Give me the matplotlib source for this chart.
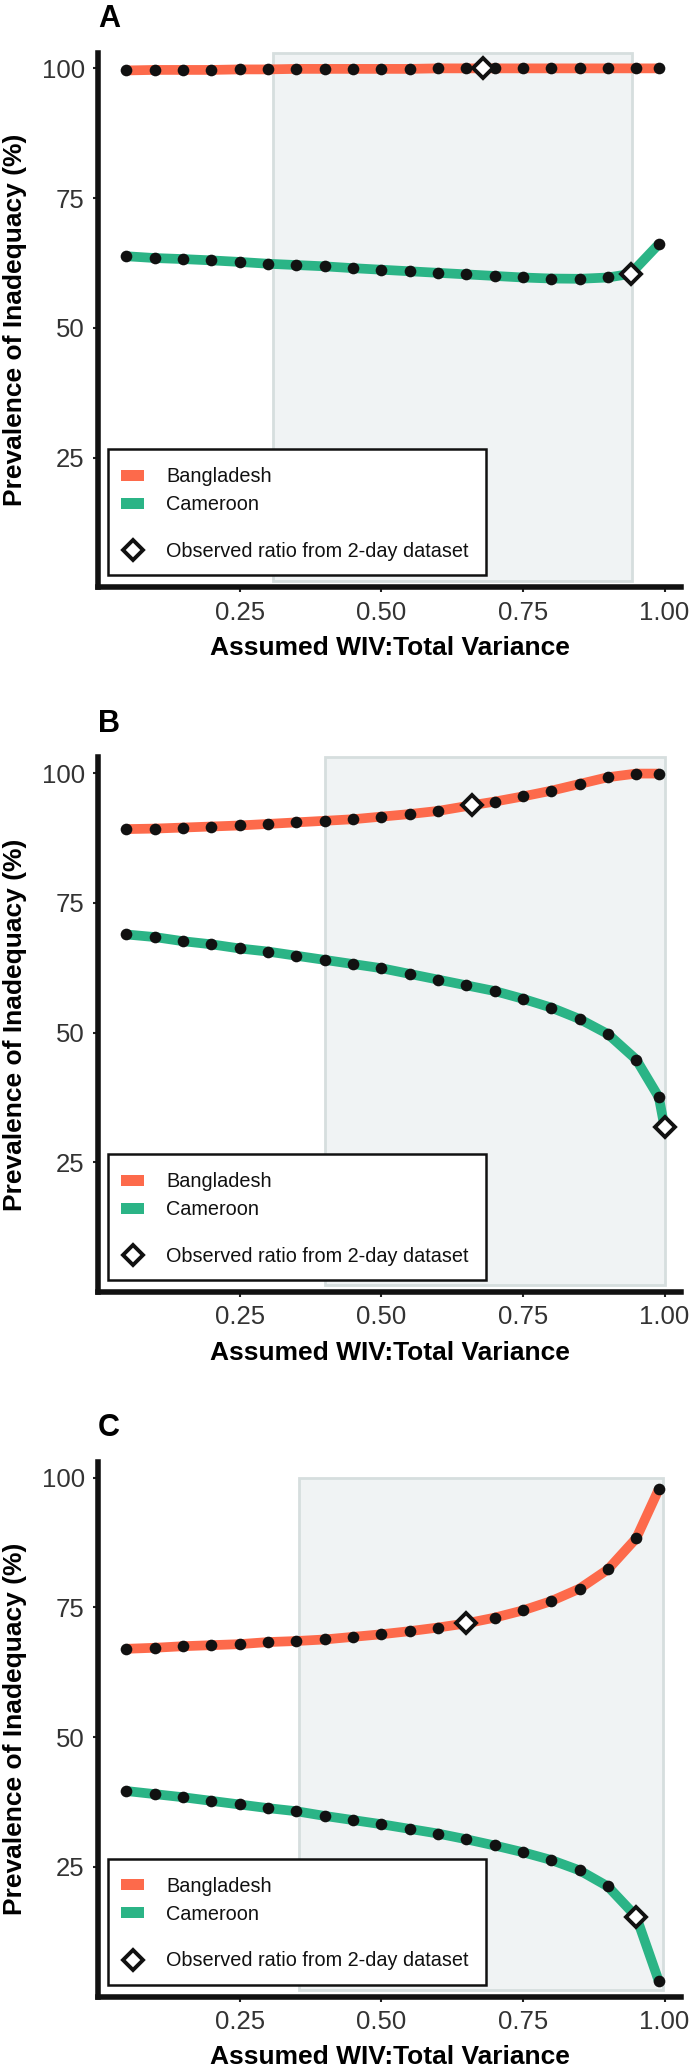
import matplotlib
matplotlib.use('Agg')
import matplotlib.pyplot as plt
from matplotlib.patches import Rectangle

plt.rcParams['font.family'] = ['Liberation Sans', 'DejaVu Sans']

# assumed WIV:total variance grid
wiv = [0.05, 0.10, 0.15, 0.20, 0.25, 0.30, 0.35, 0.40, 0.45, 0.50,
       0.55, 0.60, 0.65, 0.70, 0.75, 0.80, 0.85, 0.90, 0.95, 0.99]

# panel A
bgd_a = [99.6, 99.7, 99.7, 99.7, 99.8, 99.8, 99.9, 99.9, 99.9, 99.9,
         99.9, 100.0, 100.0, 100.0, 100.0, 100.0, 100.0, 100.0, 100.0, 100.0]
cmr_a = [63.8, 63.45, 63.25, 63.0, 62.7, 62.35, 62.1, 61.85, 61.5, 61.2,
         60.9, 60.6, 60.3, 60.0, 59.7, 59.5, 59.45, 59.7, None, 66.15]
obs_bgd_a = (0.68, 100.0)
obs_cmr_a = (0.94, 60.4)
shade_a = (0.308, 0.943)

# panel B
bgd_b = [89.2, 89.3, 89.5, 89.7, 89.9, 90.2, 90.5, 90.8, 91.1, 91.6,
         92.1, 92.7, None, 94.5, 95.5, 96.6, 97.9, 99.2, 99.9, 99.9]
cmr_b = [68.9, 68.4, 67.6, 67.0, 66.2, 65.6, 64.8, 64.0, 63.2, 62.4,
         61.3, 60.2, 59.1, 58.0, 56.5, 54.8, 52.6, 49.7, 44.8, 37.5]
obs_bgd_b = (0.66, 93.8)
obs_cmr_b = (1.00, 31.7)
shade_b = (0.40, 1.0)

# panel C
bgd_c = [67.0, 67.2, 67.5, 67.7, 67.9, 68.3, 68.5, 68.8, 69.3, 69.8,
         70.4, 71.1, None, 73.0, 74.4, 76.2, 78.6, 82.3, 88.3, 97.8]
cmr_c = [39.6, 39.0, 38.4, 37.7, 37.0, 36.3, 35.7, 34.8, 34.0, 33.2,
         32.3, 31.4, 30.3, 29.1, 27.8, 26.3, 24.3, 21.2, None, 2.9]
obs_bgd_c = (0.65, 71.9)
obs_cmr_c = (0.95, 15.4)
shade_c = (0.355, 0.997)

countries = ['Bangladesh', 'Cameroon']
obs_label = 'Observed ratio from 2-day dataset'
xticks = [0.25, 0.50, 0.75, 1.00]
xtick_labels = ['0.25', '0.50', '0.75', '1.00']
yticks = [25, 50, 75, 100]

ORANGE = '#FD6A4B'
GREEN = '#2BB486'
INK = '#111111'

panels = [
    ('A', bgd_a, cmr_a, obs_bgd_a, obs_cmr_a, shade_a, None),
    ('B', bgd_b, cmr_b, obs_bgd_b, obs_cmr_b, shade_b, None),
    ('C', bgd_c, cmr_c, obs_bgd_c, obs_cmr_c, shade_c, 100),
]

W, H = 691, 2069
fig = plt.figure(figsize=(W / 100, H / 100), dpi=100)

# axes geometry in pixels
AX_L, AX_W, AX_H = 98, 583, 534.5
bottoms = [587.3, 1292, 1996.5]
YMAX = 103

DIAMOND = dict(marker='D', mfc='white', mec=INK, ms=10.5, mew=2.8)


def fx(p):
    return p / AX_W


def fy(p):
    return p / AX_H


for b, (lab, bgd, cmr, ob, oc, shade, shade_top) in zip(bottoms, panels):
    ax = fig.add_axes([AX_L / W, 1 - b / H, AX_W / W, AX_H / H])
    ax.set_xlim(0, 1.029)
    ax.set_ylim(0, YMAX)

    # shaded range of observed ratios
    top = shade_top if shade_top else YMAX
    ax.add_patch(Rectangle((shade[0], 1.3), shade[1] - shade[0], top - 1.3,
                           facecolor='#F0F3F4', edgecolor='#D6DEDE', lw=2,
                           zorder=0, clip_on=False))

    for vals, obs, col in ((bgd, ob, ORANGE), (cmr, oc, GREEN)):
        pts = [(x, y) for x, y in zip(wiv, vals) if y is not None]
        path = sorted(pts + [obs])
        ax.plot([p[0] for p in path], [p[1] for p in path], color=col, lw=7,
                solid_capstyle='butt', solid_joinstyle='round', zorder=2)
        ax.plot([p[0] for p in pts], [p[1] for p in pts], 'o', color=INK,
                ms=8.4, mew=0, zorder=3)
    for obs in (ob, oc):
        ax.plot([obs[0]], [obs[1]], ls='none', zorder=4, clip_on=False, **DIAMOND)

    for s in ('top', 'right'):
        ax.spines[s].set_visible(False)
    for s in ('left', 'bottom'):
        ax.spines[s].set_linewidth(4)
        ax.spines[s].set_color(INK)

    ax.set_xticks(xticks)
    ax.set_xticklabels(xtick_labels)
    ax.set_yticks(yticks)
    ax.tick_params(length=3.6, width=1.5, color='#222222', labelsize=18.5,
                   labelcolor='#333333', pad=6)

    ax.set_xlabel('Assumed WIV:Total Variance', fontsize=19, fontweight='bold')
    ax.xaxis.set_label_coords(0.5, fy(-61))
    ax.xaxis.label.set_va('center')
    ax.set_ylabel('Prevalence of Inadequacy (%)', fontsize=19, fontweight='bold')
    ax.yaxis.set_label_coords(fx(-82.5), 0.5)
    ax.yaxis.label.set_va('center')

    # panel letter, baseline ~27 px below the top of the figure slot
    ax.text(0.0, 1 + fy(587.3 - 27 - AX_H), lab, transform=ax.transAxes,
            fontsize=22, fontweight='bold', ha='left', va='baseline')

    # legend box
    ax.add_patch(Rectangle((fx(10), fy(12)), fx(378), fy(126), transform=ax.transAxes,
                           facecolor='white', edgecolor=INK, lw=1.8, zorder=5,
                           clip_on=False))
    for yc, name, col in ((112, countries[0], ORANGE), (84, countries[1], GREEN)):
        ax.add_patch(Rectangle((fx(23), fy(yc - 5.5)), fx(23), fy(11),
                               transform=ax.transAxes, facecolor=col,
                               edgecolor='none', zorder=6))
        ax.text(fx(68), fy(yc - 7), name, transform=ax.transAxes, fontsize=14.3,
                color=INK, va='baseline', ha='left', zorder=6)
    ax.plot([fx(34.5)], [fy(37)], ls='none', transform=ax.transAxes, zorder=6,
            clip_on=False, **DIAMOND)
    ax.text(fx(68), fy(30), obs_label, transform=ax.transAxes, fontsize=14.3,
            color=INK, va='baseline', ha='left', zorder=6)

fig.savefig('out.png', dpi=100)
